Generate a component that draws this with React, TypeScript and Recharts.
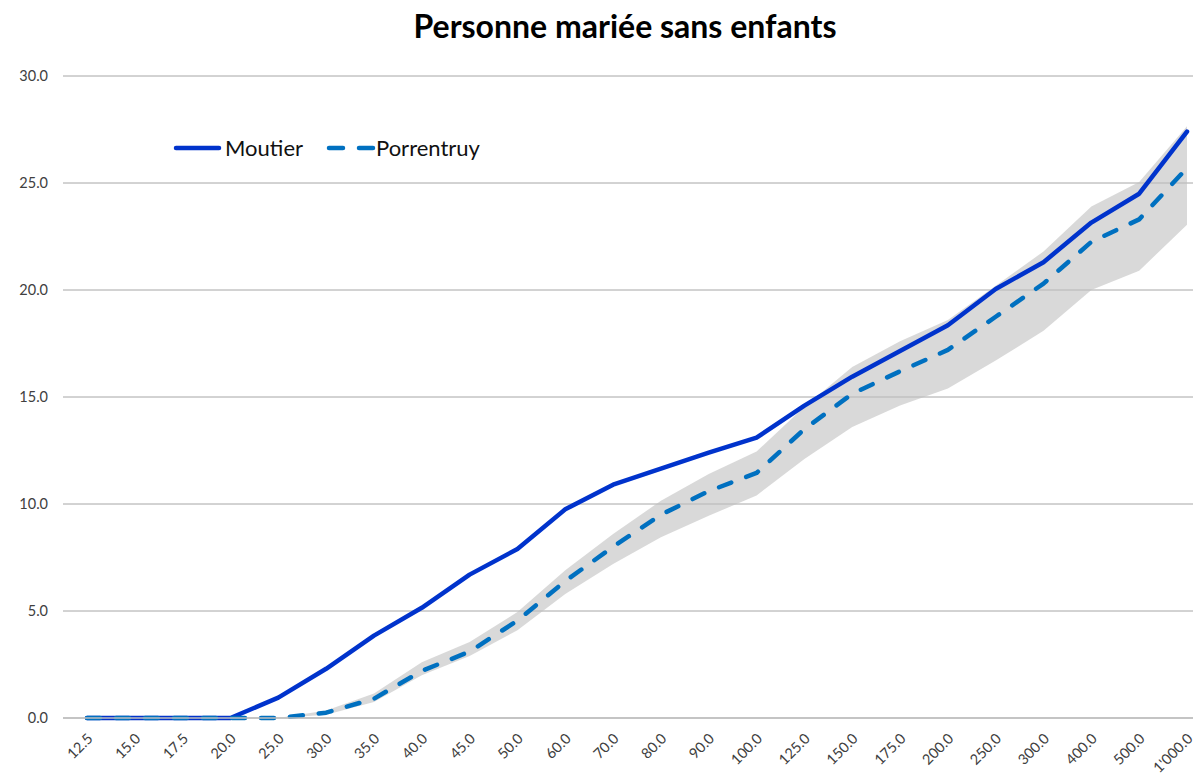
import { ComposedChart, Line, Area, XAxis, YAxis, CartesianGrid } from 'recharts'

const categories = [
  '12.5', '15.0', '17.5', '20.0', '25.0', '30.0', '35.0', '40.0', '45.0', '50.0', '60.0', '70.0',
  '80.0', '90.0', '100.0', '125.0', '150.0', '175.0', '200.0', '250.0', '300.0', '400.0', '500.0', "1'000.0",
]

const moutier = [
  0, 0, 0, 0, 0.95, 2.3, 3.85, 5.15, 6.7, 7.9, 9.75, 10.9,
  11.65, 12.4, 13.1, 14.6, 15.95, 17.15, 18.35, 20.05, 21.3, 23.15, 24.5, 27.4,
]

const porrentruy = [
  0, 0, 0, 0, 0, 0.25, 0.9, 2.2, 3.1, 4.55, 6.4, 8.0,
  9.5, 10.6, 11.45, 13.5, 15.15, 16.2, 17.2, 18.75, 20.3, 22.25, 23.3, 25.7,
]

// grey band (range) around Porrentruy
const bandLow = [
  0, 0, 0, 0, 0, 0.15, 0.75, 2.0, 2.9, 4.1, 5.8, 7.2,
  8.45, 9.45, 10.4, 12.1, 13.6, 14.6, 15.4, 16.7, 18.1, 20.0, 20.9, 23.05,
]
const bandHigh = [
  0, 0, 0, 0, 0, 0.35, 1.15, 2.6, 3.55, 4.95, 6.9, 8.6,
  10.15, 11.4, 12.45, 14.55, 16.4, 17.6, 18.6, 20.2, 21.8, 23.9, 25.05, 27.65,
]

const yTicks = [0, 5, 10, 15, 20, 25, 30]

const data = categories.map((cat, i) => ({
  cat,
  moutier: moutier[i],
  porrentruy: porrentruy[i],
  band: [bandLow[i], bandHigh[i]],
}))

const FONT = 'Lato, "Open Sans", sans-serif'
const MOUTIER_COLOR = '#0033cc'
const PORR_COLOR = '#0070c0'

function XTick({ x, y, payload }: any) {
  const ax = x + 3
  const ay = y + 10
  return (
    <text
      x={ax}
      y={ay}
      dy="0.35em"
      textAnchor="end"
      transform={`rotate(-45 ${ax} ${ay})`}
      fontSize={14.5}
      fontFamily={FONT}
      fill="#404040"
    >
      {payload.value}
    </text>
  )
}

// legend sits inside the plot, top-left
function ChartLegend() {
  return (
    <div
      style={{
        position: 'absolute',
        top: 126,
        left: 165,
        display: 'flex',
        alignItems: 'center',
        fontFamily: FONT,
        fontSize: 22,
        color: '#111',
      }}
    >
      <svg width={50} height={10}>
        <line x1={3} y1={5} x2={46} y2={5} stroke={MOUTIER_COLOR} strokeWidth={4.5} strokeLinecap="round" />
      </svg>
      <span style={{ marginLeft: 2 }}>Moutier</span>
      <svg width={50} height={10} style={{ marginLeft: 23 }}>
        <line
          x1={3}
          y1={5}
          x2={47}
          y2={5}
          stroke={PORR_COLOR}
          strokeWidth={4.5}
          strokeLinecap="round"
          strokeDasharray="14 16"
        />
      </svg>
      <span style={{ marginLeft: 0 }}>Porrentruy</span>
    </div>
  )
}

export default function App() {
  return (
    <div style={{ position: 'relative', width: 1193, height: 768 }}>
      <div
        style={{
          position: 'absolute',
          top: -2,
          left: 617,
          transform: 'translateX(-50%)',
          whiteSpace: 'nowrap',
          fontFamily: FONT,
          fontWeight: 700,
          fontSize: 32,
          color: '#000',
        }}
      >
        Personne mariée sans enfants
      </div>
      <ComposedChart
        width={1193}
        height={768}
        data={data}
        margin={{ top: 68, right: 0, bottom: 0, left: 0 }}
        style={{ overflow: 'visible' }}
      >
        <CartesianGrid vertical={false} stroke="#a6a6a6" />
        <XAxis
          dataKey="cat"
          interval={0}
          height={58}
          padding={{ left: 24, right: 14 }}
          tickLine={false}
          axisLine={{ stroke: '#bfbfbf', strokeWidth: 1.5 }}
          tick={<XTick />}
        />
        <YAxis
          width={55}
          domain={[0, 30]}
          ticks={yTicks}
          axisLine={false}
          tickLine={false}
          tickMargin={9}
          tickFormatter={(v: number) => v.toFixed(1)}
          tick={{ fontSize: 14.5, fontFamily: FONT, fill: '#404040' }}
        />
        <Area
          dataKey="band"
          stroke="none"
          fill="#bfbfbf"
          fillOpacity={0.6}
          isAnimationActive={false}
          activeDot={false}
          legendType="none"
        />
        <Line
          dataKey="moutier"
          stroke={MOUTIER_COLOR}
          strokeWidth={4.5}
          strokeLinecap="round"
          strokeLinejoin="round"
          dot={false}
          activeDot={false}
          isAnimationActive={false}
        />
        <Line
          dataKey="porrentruy"
          stroke={PORR_COLOR}
          strokeWidth={4.5}
          strokeLinecap="round"
          strokeLinejoin="round"
          strokeDasharray="13 16"
          dot={false}
          activeDot={false}
          isAnimationActive={false}
        />
      </ComposedChart>
      <ChartLegend />
    </div>
  )
}
